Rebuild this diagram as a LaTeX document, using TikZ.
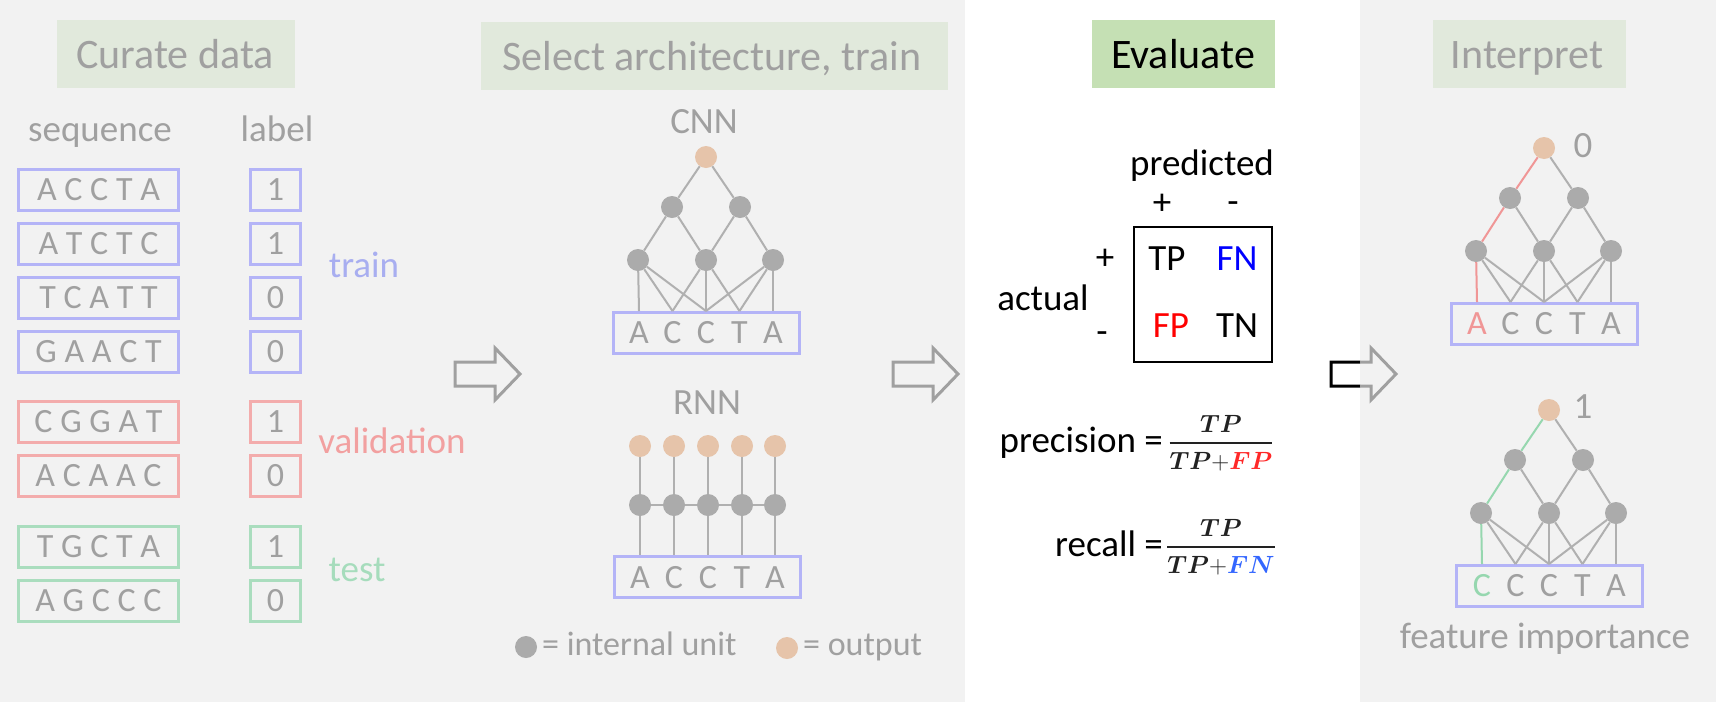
\documentclass[tikz,border=0pt]{standalone}
\usepackage{amsmath}
\usepackage{fontspec}
\setmainfont{Carlito}
\definecolor{bgc}{HTML}{F2F2F2}
\definecolor{fadetext}{HTML}{A0A0A0}
\definecolor{titlefade}{HTML}{E1E9DC}
\definecolor{titlegreen}{HTML}{C5E0B4}
\definecolor{unitgray}{HTML}{ABABAB}
\definecolor{linegray}{HTML}{B0B0B0}
\definecolor{peach}{HTML}{E6C4AA}
\definecolor{boxblue}{HTML}{B4B4F7}
\definecolor{boxred}{HTML}{F3ACAC}
\definecolor{boxgreen}{HTML}{AADDBE}
\definecolor{trainc}{HTML}{A8AEF0}
\definecolor{valc}{HTML}{F2A0A0}
\definecolor{testc}{HTML}{A6DCBC}
\definecolor{pathred}{HTML}{F09696}
\definecolor{pathgreen}{HTML}{96D7AF}
\definecolor{arrowgray}{HTML}{A0A0A0}
\definecolor{fnblue}{HTML}{0000FF}
\definecolor{fpred}{HTML}{FF0000}
\definecolor{fracblue}{HTML}{3366FF}
\definecolor{fracred}{HTML}{FF2828}
\definecolor{fracblack}{HTML}{222222}
\newcommand\myfs[1]{\fontsize{#1}{#1}\selectfont}
\newcommand\nettree[5]{%
\begin{scope}[shift={#2}]
\node[outunit] (#1o) at (0,0) {};
\node[intunit] (#1a) at (-34,50) {};
\node[intunit] (#1b) at (34,50) {};
\node[intunit] (#1c) at (-68,103) {};
\node[intunit] (#1d) at (0,103) {};
\node[intunit] (#1e) at (67,103) {};
\node[inbox] (#1box) at (0,175.5) {};
\coordinate (#1i1) at (-67,154);
\coordinate (#1i2) at (-33.5,154);
\coordinate (#1i3) at (0,154);
\coordinate (#1i4) at (33.5,154);
\coordinate (#1i5) at (67,154);
\node[seqtext,text=#4] (#1l1) at (-67,186) {#5};
\node[seqtext] (#1l2) at (-33.5,186) {C};
\node[seqtext] (#1l3) at (0,186) {C};
\node[seqtext] (#1l4) at (33.5,186) {T};
\node[seqtext] (#1l5) at (67,186) {A};
\end{scope}
\draw[conn] (#1o) -- (#1b);
\draw[conn] (#1a) -- (#1d);
\draw[conn] (#1b) -- (#1d);
\draw[conn] (#1b) -- (#1e);
\draw[conn] (#1c) -- (#1i2);
\draw[conn] (#1c) -- (#1i3);
\draw[conn] (#1d) -- (#1i2);
\draw[conn] (#1d) -- (#1i3);
\draw[conn] (#1d) -- (#1i4);
\draw[conn] (#1e) -- (#1i3);
\draw[conn] (#1e) -- (#1i4);
\draw[conn] (#1e) -- (#1i5);
\draw[conn,draw=#3] (#1o) -- (#1a) -- (#1c) -- (#1i1);
}
\begin{document}
\begin{tikzpicture}[x=1pt,y=-1pt,
  conn/.style={draw=linegray,line width=2pt},
  intunit/.style={circle,fill=unitgray,minimum size=22pt,inner sep=0pt},
  outunit/.style={circle,fill=peach,minimum size=22pt,inner sep=0pt},
  inbox/.style={draw=boxblue,line width=3pt,minimum width=186pt,minimum height=41pt,inner sep=0pt},
  seqtext/.style={anchor=base,inner sep=0pt,font=\myfs{34},text=fadetext},
  gtext/.style={anchor=base,inner sep=0pt,font=\myfs{37},text=fadetext},
  ktext/.style={anchor=base,inner sep=0pt,font=\myfs{37},text=black},
  signtext/.style={anchor=base,inner sep=0pt,font=\myfs{37},text=black},
  seqbox/.style={line width=3pt,minimum width=160pt,minimum height=41pt,inner sep=0pt,font=\myfs{34},text=fadetext},
  lblbox/.style={line width=3pt,minimum width=50pt,minimum height=41pt,inner sep=0pt,font=\myfs{34},text=fadetext},
  titlebox/.style={inner sep=0pt,minimum height=68pt},
  titletext/.style={anchor=base,inner sep=0pt,font=\myfs{42},text=fadetext},
  fractext/.style={inner sep=0pt,font=\myfs{26},text=fracblack},
  blockarrow/.style={line width=3pt,line join=miter}
]
% backgrounds
\fill[bgc] (0,0) rectangle (1716,702);
\fill[white] (965,0) rectangle (1360,702);
\useasboundingbox (0,0) rectangle (1716,702);

% titles
\node[titlebox,fill=titlefade,minimum width=238pt] (t1) at (176,54) {};
\node[titletext] (t1t) at (175,68) {Curate data};
\node[titlebox,fill=titlefade,minimum width=467pt] (t2) at (714.5,56) {};
\node[titletext] (t2t) at (712,70) {Select architecture, train};
\node[titlebox,fill=titlegreen,minimum width=183pt] (t3) at (1183.5,54) {};
\node[titletext,text=black] (t3t) at (1183,68) {Evaluate};
\node[titlebox,fill=titlefade,minimum width=193pt] (t4) at (1529.5,54) {};
\node[titletext] (t4t) at (1527,68) {Interpret};

% data column
\node[gtext] (seqh) at (100,141) {sequence};
\node[gtext] (lblh) at (277,141) {label};
\node[seqbox,draw=boxblue] (s1) at (98.5,190) {A C C T A};
\node[lblbox,draw=boxblue] (l1) at (275.5,190) {1};
\node[seqbox,draw=boxblue] (s2) at (98.5,244) {A T C T C};
\node[lblbox,draw=boxblue] (l2) at (275.5,244) {1};
\node[seqbox,draw=boxblue] (s3) at (98.5,298) {T C A T T};
\node[lblbox,draw=boxblue] (l3) at (275.5,298) {0};
\node[seqbox,draw=boxblue] (s4) at (98.5,352) {G A A C T};
\node[lblbox,draw=boxblue] (l4) at (275.5,352) {0};
\node[seqbox,draw=boxred] (s5) at (98.5,422) {C G G A T};
\node[lblbox,draw=boxred] (l5) at (275.5,422) {1};
\node[seqbox,draw=boxred] (s6) at (98.5,476) {A C A A C};
\node[lblbox,draw=boxred] (l6) at (275.5,476) {0};
\node[seqbox,draw=boxgreen] (s7) at (98.5,547) {T G C T A};
\node[lblbox,draw=boxgreen] (l7) at (275.5,547) {1};
\node[seqbox,draw=boxgreen] (s8) at (98.5,601) {A G C C C};
\node[lblbox,draw=boxgreen] (l8) at (275.5,601) {0};
\node[gtext,text=trainc] (trainlbl) at (364,277) {train};
\node[gtext,text=valc] (vallbl) at (392,453) {validation};
\node[gtext,text=testc] (testlbl) at (357,581) {test};

% arrows
\draw[blockarrow,draw=arrowgray] (455,362) -- (495,362) -- (495,348) -- (520,374) -- (495,400) -- (495,386) -- (455,386) -- cycle;
\draw[blockarrow,draw=arrowgray] (893,362) -- (933,362) -- (933,348) -- (958,374) -- (933,400) -- (933,386) -- (893,386) -- cycle;
\begin{scope}
\clip (1300,330) rectangle (1360,420);
\draw[blockarrow,draw=black] (1331,362) -- (1371,362) -- (1371,348) -- (1396,374) -- (1371,400) -- (1371,386) -- (1331,386) -- cycle;
\end{scope}
\begin{scope}
\clip (1360,330) rectangle (1420,420);
\draw[blockarrow,draw=arrowgray] (1331,362) -- (1371,362) -- (1371,348) -- (1396,374) -- (1371,400) -- (1371,386) -- (1331,386) -- cycle;
\end{scope}

% CNN
\node[gtext] (cnnlbl) at (704,133) {CNN};
\nettree{cnn}{(706,157)}{linegray}{fadetext}{A}

% RNN
\node[gtext] (rnnlbl) at (707,414) {RNN};
\node[inbox] (rbox) at (707,576.5) {};
\foreach \i/\x/\c in {1/640/A,2/674/C,3/708/C,4/742/T,5/775/A}{
  \node[outunit] (ro\i) at (\x,446) {};
  \node[intunit] (rh\i) at (\x,505) {};
  \coordinate (ri\i) at (\x,555);
  \node[seqtext] (rl\i) at (\x,588) {\c};
}
\foreach \i in {1,...,5}{
  \draw[conn] (ro\i) -- (rh\i);
  \draw[conn] (rh\i) -- (ri\i);
}
\draw[conn] (rh1) -- (rh2) -- (rh3) -- (rh4) -- (rh5);

% legend
\node[intunit] (legu) at (526,647) {};
\node[seqtext,anchor=base west] (legut) at (542,655) {= internal unit};
\node[outunit] (lego) at (787,648) {};
\node[seqtext,anchor=base west] (legot) at (803,655) {= output};

% Evaluate
\node[ktext] (pred) at (1202,175) {predicted};
\node[signtext] (pp) at (1162,214) {+};
\node[signtext] (pm) at (1233,213) {-};
\node[draw=black,line width=2.5pt,minimum width=138pt,minimum height=135pt,inner sep=0pt] (cm) at (1203,294.5) {};
\node[ktext] (tp) at (1167,270) {TP};
\node[ktext,text=fnblue] (fn) at (1237,270) {FN};
\node[ktext,text=fpred] (fp) at (1171,337) {FP};
\node[ktext] (tn) at (1237,337) {TN};
\node[signtext] (ap) at (1105,269) {+};
\node[signtext] (am) at (1102,343) {-};
\node[ktext] (actual) at (1043,310) {actual};
\node[ktext,anchor=base east] (prec) at (1163,452) {precision =};
\node[fractext] (precf) at (1221,443) {$\genfrac{}{}{2.6pt}{0}{\boldsymbol{TP}}{\boldsymbol{TP}{+}\boldsymbol{\color{fracred}FP}}$};
\node[ktext,anchor=base east] (rec) at (1163,556) {recall =};
\node[fractext] (recf) at (1221,547) {$\genfrac{}{}{2.6pt}{0}{\boldsymbol{TP}}{\boldsymbol{TP}{+}\boldsymbol{\color{fracblue}FN}}$};

% Interpret
\nettree{up}{(1544,148)}{pathred}{pathred}{A}
\node[gtext] (zero) at (1583,157) {0};
\nettree{lo}{(1549,410)}{pathgreen}{pathgreen}{C}
\node[gtext] (one) at (1583,418) {1};
\node[gtext] (featimp) at (1545,648) {feature importance};
\end{tikzpicture}
\end{document}
